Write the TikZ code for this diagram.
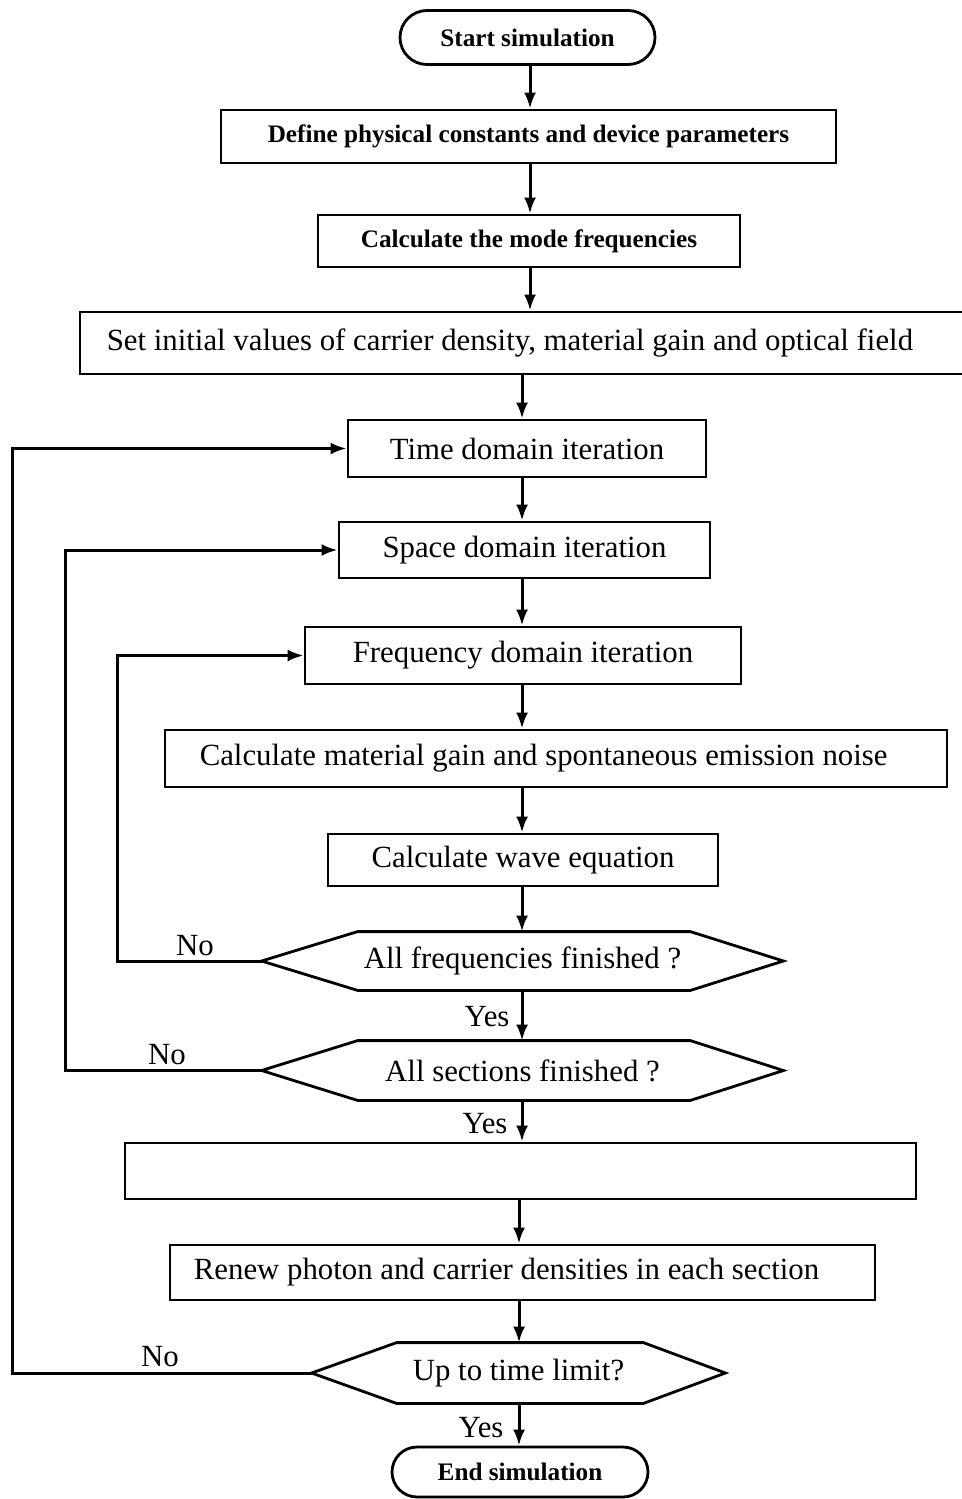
\documentclass[tikz,border=0pt]{standalone}
\usepackage{fontspec}
\setmainfont{Liberation Serif}
\usetikzlibrary{arrows.meta,shapes.misc}
\newcommand\regfont{\fontsize{15.4pt}{18pt}\selectfont}
\newcommand\bldfont{\fontsize{12.6pt}{15pt}\selectfont\bfseries}
\tikzset{
  boxline/.style={line width=1.4pt},
  proc/.style={draw, line width=1.4pt, rectangle, inner sep=0pt, font=\regfont},
  bproc/.style={proc, font=\bldfont},
  term/.style={draw, line width=1.4pt, rounded rectangle, inner sep=0pt, font=\bldfont},
  dec/.style={inner sep=0pt, font=\regfont},
  arr/.style={line width=1.5pt, -{Latex[length=8pt,width=6pt]}},
  lbl/.style={font=\regfont, inner sep=0pt},
}
\begin{document}
\begin{tikzpicture}[x=0.5pt,y=-0.5pt]
\useasboundingbox (0,0) rectangle (962,1499);
% axes for vertical connectors and left rails
\coordinate (axA) at (530,0);
\coordinate (axB) at (522,0);
\coordinate (axC) at (519,0);
\coordinate (rail1) at (12,0);
\coordinate (rail2) at (65,0);
\coordinate (rail3) at (117,0);

\node[term, minimum width=127.5pt, minimum height=27pt] (start) at (527.5,37.5) {Start simulation};
\node[bproc, minimum width=307.5pt, minimum height=26.5pt] (define) at (528.5,136.5) {Define physical constants and device parameters};
\node[bproc, minimum width=211pt, minimum height=26pt] (calc) at (529,241) {Calculate the mode frequencies};
\node[proc, minimum width=447.5pt, minimum height=31pt,
      label={[lbl, xshift=-8.8pt]center:Set initial values of carrier density, material gain and optical field}] (init) at (527.5,343) {};
\node[proc, minimum width=179pt, minimum height=28.5pt] (time) at (527,448.5) {Time domain iteration};
\node[proc, minimum width=185.5pt, minimum height=28pt] (space) at (524.5,550) {Space domain iteration};
\node[proc, minimum width=218pt, minimum height=28.5pt] (freq) at (523,655.5) {Frequency domain iteration};
\node[proc, minimum width=391pt, minimum height=28.5pt,
      label={[lbl, xshift=-6.2pt]center:Calculate material gain and spontaneous emission noise}] (gain) at (556,758.5) {};
\node[proc, minimum width=195pt, minimum height=26pt] (wave) at (523,860) {Calculate wave equation};

\node[dec, minimum width=260.5pt, minimum height=29pt] (d1) at (522.5,961) {All frequencies finished ?};
\draw[boxline] (d1.west) -- ([xshift=48pt]d1.north west) -- ([xshift=-46.5pt]d1.north east) -- (d1.east)
  -- ([xshift=-46.5pt]d1.south east) -- ([xshift=48pt]d1.south west) -- cycle;
\node[dec, minimum width=260.5pt, minimum height=29.5pt] (d2) at (522.5,1070.5) {All sections finished ?};
\draw[boxline] (d2.west) -- ([xshift=48pt]d2.north west) -- ([xshift=-46.5pt]d2.north east) -- (d2.east)
  -- ([xshift=-46.5pt]d2.south east) -- ([xshift=48pt]d2.south west) -- cycle;

\node[proc, minimum width=395.5pt, minimum height=28pt] (empty) at (520.5,1171) {};
\node[proc, minimum width=352.5pt, minimum height=27.5pt,
      label={[lbl, xshift=-8pt]center:Renew photon and carrier densities in each section}] (renew) at (522.5,1272.5) {};

\node[dec, minimum width=206.5pt, minimum height=30pt] (d3) at (518.5,1373) {Up to time limit?};
\draw[boxline] (d3.west) -- ([xshift=42.5pt]d3.north west) -- ([xshift=-41pt]d3.north east) -- (d3.east)
  -- ([xshift=-41pt]d3.south east) -- ([xshift=42.5pt]d3.south west) -- cycle;

\node[term, minimum width=128pt, minimum height=25pt] (end) at (520,1472) {End simulation};

% main flow
\draw[arr] (start.south -| axA) -- (define.north -| axA);
\draw[arr] (define.south -| axA) -- (calc.north -| axA);
\draw[arr] (calc.south -| axA) -- (init.north -| axA);
\draw[arr] (init.south -| axB) -- (time.north -| axB);
\draw[arr] (time.south -| axB) -- (space.north -| axB);
\draw[arr] (space.south -| axB) -- (freq.north -| axB);
\draw[arr] (freq.south -| axB) -- (gain.north -| axB);
\draw[arr] (gain.south -| axB) -- (wave.north -| axB);
\draw[arr] (wave.south -| axB) -- (d1.north -| axB);
\draw[arr] (d1.south -| axB) -- (d2.north -| axB);
\draw[arr] (d2.south -| axB) -- (empty.north -| axB);
\draw[arr] (empty.south -| axC) -- (renew.north -| axC);
\draw[arr] (renew.south -| axC) -- (d3.north -| axC);
\draw[arr] (d3.south -| axC) -- (end.north -| axC);

% feedback loops
\draw[arr] (d1.west) -- (d1.west -| rail3) -- (freq.west -| rail3) -- (freq.west);
\draw[arr] (d2.west) -- (d2.west -| rail2) -- (space.west -| rail2) -- (space.west);
\draw[arr] (d3.west) -- (d3.west -| rail1) -- (time.west -| rail1) -- (time.west);

% labels
\node[lbl] at (195,946) {No};
\node[lbl] at (167,1055) {No};
\node[lbl] at (160,1357) {No};
\node[lbl] at (487,1017) {Yes};
\node[lbl] at (485,1124) {Yes};
\node[lbl] at (481,1428) {Yes};
\end{tikzpicture}
\end{document}
